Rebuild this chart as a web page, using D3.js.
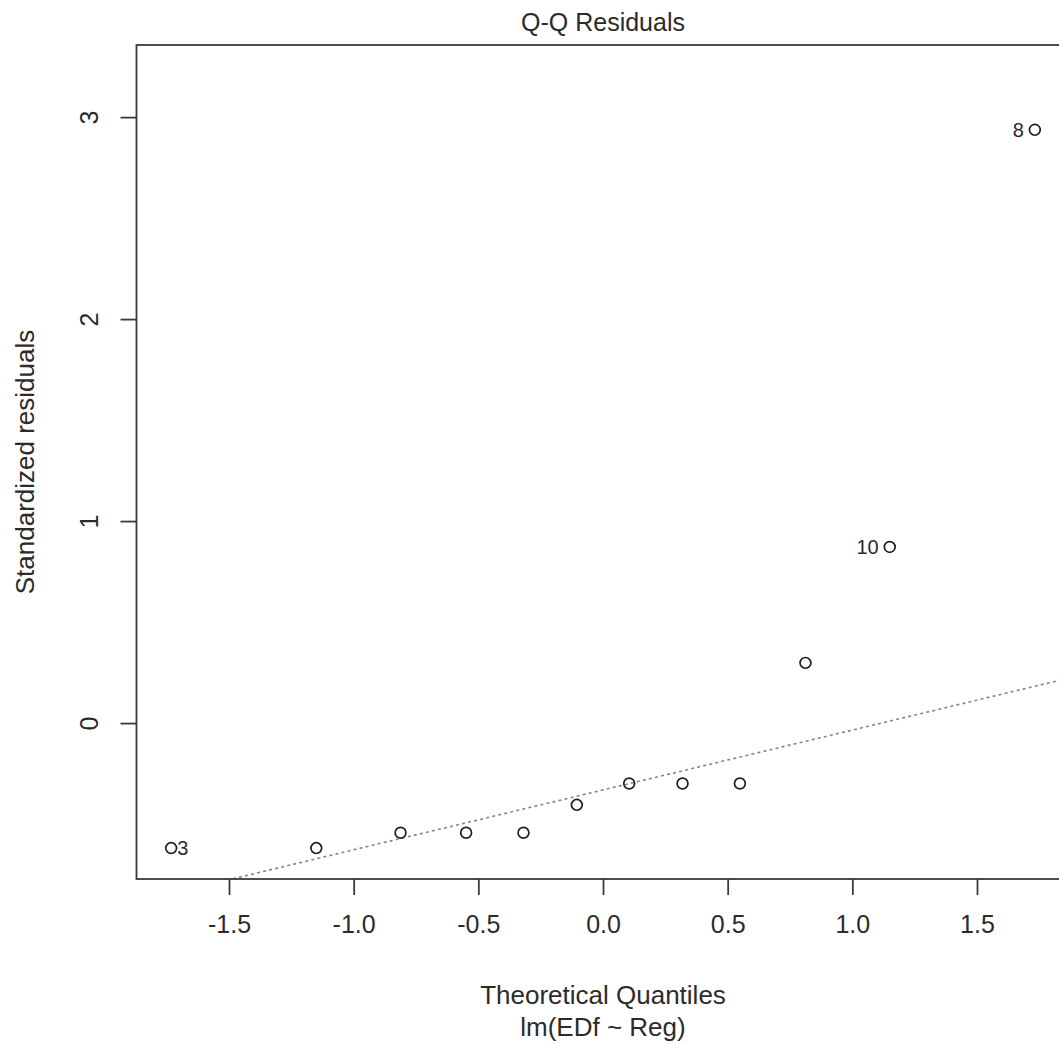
<!DOCTYPE html>
<html>
<head>
<meta charset="utf-8">
<script src="https://cdn.jsdelivr.net/npm/d3@7"></script>
<style>
  html, body { margin: 0; padding: 0; background: #fff; }
  svg { display: block; }
  text { font-family: "Liberation Sans", Arial, sans-serif; fill: #2b2b2b; }
</style>
</head>
<body>
<svg id="chart" width="1059" height="1044"></svg>
<script>
// Theoretical quantiles (x) and standardized residuals (y)
const theoretical = [-1.732, -1.150, -0.812, -0.549, -0.319, -0.105, 0.105, 0.319, 0.549, 0.812, 1.150, 1.732];
const residuals   = [-0.619, -0.619, -0.543, -0.543, -0.543, -0.405, -0.299, -0.299, -0.299, 0.298, 0.872, 2.937];
const pointIds    = ["3", "", "", "", "", "", "", "", "", "", "10", "8"];
const labelSide   = ["right", "", "", "", "", "", "", "", "", "", "left", "left"];
const xTicks = [-1.5, -1.0, -0.5, 0.0, 0.5, 1.0, 1.5];
const yTicks = [0, 1, 2, 3];
const xDomain = [-1.871, 1.871];
const yDomain = [-0.772, 3.357];
// reference line (qqline) : intercept and slope
const lineIntercept = -0.331;
const lineSlope = 0.2964;
const titleText = "Q-Q Residuals";
const xTitle = "Theoretical Quantiles";
const xSubTitle = "lm(EDf ~ Reg)";
const yTitle = "Standardized residuals";

const svg = d3.select("#chart");
const pL = 136.5, pR = 1069.5, pT = 45, pB = 879;
const x = d3.scaleLinear().domain(xDomain).range([pL, pR]);
const y = d3.scaleLinear().domain(yDomain).range([pB, pT]);

svg.append("defs").append("clipPath").attr("id", "clip")
  .append("rect").attr("x", pL).attr("y", pT).attr("width", pR - pL).attr("height", pB - pT);

// reference line
svg.append("line")
  .attr("clip-path", "url(#clip)")
  .attr("x1", x(xDomain[0])).attr("y1", y(lineIntercept + lineSlope * xDomain[0]))
  .attr("x2", x(xDomain[1])).attr("y2", y(lineIntercept + lineSlope * xDomain[1]))
  .attr("stroke", "#858585").attr("stroke-width", 1.6).attr("stroke-dasharray", "3,3.2");

// points
svg.append("g").selectAll("circle").data(theoretical).join("circle")
  .attr("cx", d => x(d)).attr("cy", (d, i) => y(residuals[i]))
  .attr("r", 5.4).attr("fill", "none").attr("stroke", "#1e1e1e").attr("stroke-width", 1.7);

// point labels
svg.append("g").selectAll("text").data(theoretical.map((d, i) => i).filter(i => pointIds[i] !== "")).join("text")
  .attr("x", i => labelSide[i] === "right" ? x(theoretical[i]) + 6 : x(theoretical[i]) - 11)
  .attr("y", i => y(residuals[i]))
  .attr("dy", "0.36em")
  .attr("text-anchor", i => labelSide[i] === "right" ? "start" : "end")
  .attr("font-size", 20)
  .text(i => pointIds[i]);

// box
svg.append("rect").attr("x", pL).attr("y", pT).attr("width", pR - pL).attr("height", pB - pT)
  .attr("fill", "none").attr("stroke", "#3a3a3a").attr("stroke-width", 1.8);

// x axis
const xAxis = d3.axisBottom(x).tickValues(xTicks).tickFormat(d3.format(".1f")).tickSize(16).tickPadding(20);
const gx = svg.append("g").attr("transform", `translate(0,${pB})`).call(xAxis);
gx.select(".domain").remove();
gx.selectAll("line").attr("stroke", "#3a3a3a").attr("stroke-width", 1.8);
gx.selectAll("text").attr("font-size", 25).attr("font-family", "Liberation Sans, Arial, sans-serif").attr("fill", "#2b2b2b")
  .text(d => d3.format(".1f")(d).replace("\u2212", "-"));

// y axis
const yAxis = d3.axisLeft(y).tickValues(yTicks).tickFormat(d3.format("d")).tickSize(16);
const gy = svg.append("g").attr("transform", `translate(${pL},0)`).call(yAxis);
gy.select(".domain").remove();
gy.selectAll("line").attr("stroke", "#3a3a3a").attr("stroke-width", 1.8);
gy.selectAll("text")
  .attr("font-size", 25).attr("font-family", "Liberation Sans, Arial, sans-serif").attr("fill", "#2b2b2b")
  .attr("x", null).attr("dy", null)
  .attr("text-anchor", "middle")
  .attr("dominant-baseline", "central")
  .attr("transform", "translate(-48,0) rotate(-90)");

// titles
svg.append("text").attr("x", (pL + pR) / 2).attr("y", 31).attr("text-anchor", "middle")
  .attr("font-size", 25).text(titleText);
svg.append("text").attr("x", (pL + pR) / 2).attr("y", 1004).attr("text-anchor", "middle")
  .attr("font-size", 26).text(xTitle);
svg.append("text").attr("x", (pL + pR) / 2).attr("y", 1036).attr("text-anchor", "middle")
  .attr("font-size", 26).text(xSubTitle);
svg.append("text").attr("transform", `translate(34,${(pT + pB) / 2}) rotate(-90)`).attr("text-anchor", "middle")
  .attr("font-size", 26).text(yTitle);
</script>
</body>
</html>
